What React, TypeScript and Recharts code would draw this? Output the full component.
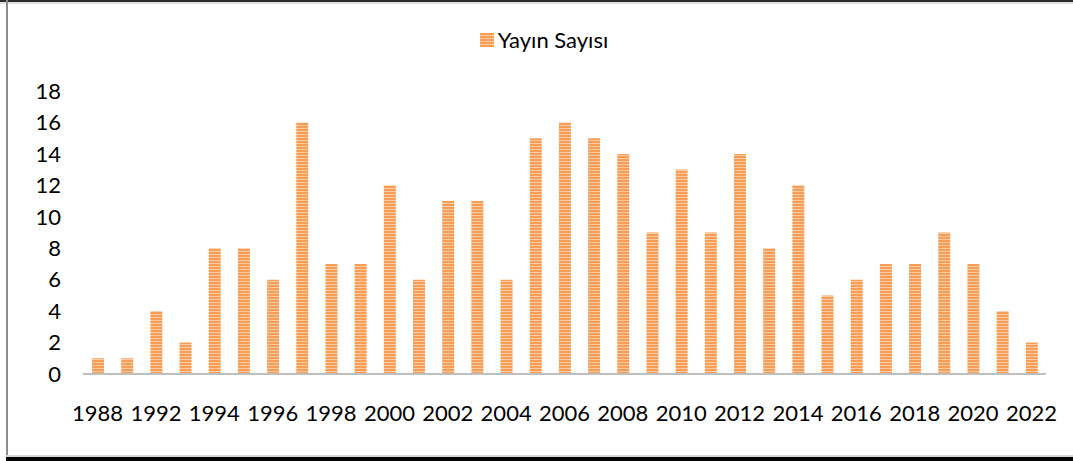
import React from 'react';
import { BarChart, Bar, XAxis, YAxis, Legend } from 'recharts';

// publication counts per year
const years = [
  '1988', '1990', '1992', '1993', '1994', '1995', '1996', '1997', '1998', '1999',
  '2000', '2001', '2002', '2003', '2004', '2005', '2006', '2007', '2008', '2009',
  '2010', '2011', '2012', '2013', '2014', '2015', '2016', '2017', '2018', '2019',
  '2020', '2021', '2022',
];
const counts = [
  1, 1, 4, 2, 8, 8, 6, 16, 7, 7,
  12, 6, 11, 11, 6, 15, 16, 15, 14, 9,
  13, 9, 14, 8, 12, 5, 6, 7, 7, 9,
  7, 4, 2,
];
const yTicks = [0, 2, 4, 6, 8, 10, 12, 14, 16, 18];
const seriesName = 'Yayın Sayısı';

const data = years.map((year, i) => ({ year, value: counts[i] }));

const FONT = 'Lato, "Open Sans", sans-serif';
const ORANGE = '#F79D55';
const STRIPE = '#FBCCA3';

const renderLegend = () => (
  <div style={{ display: 'flex', justifyContent: 'center', alignItems: 'center', paddingLeft: 42, fontFamily: FONT, fontSize: 22, color: '#000' }}>
    <svg width={14} height={14} style={{ marginRight: 4 }}>
      <rect x={0} y={0} width={14} height={14} fill="url(#stripes)" />
    </svg>
    <span>{seriesName}</span>
  </div>
);

export default function App() {
  return (
    <div style={{ position: 'absolute', left: 0, top: 0, width: 1073, height: 461, background: '#fff' }}>
      {/* frame */}
      <div style={{ position: 'absolute', left: 0, top: 0, width: 1073, height: 2, background: '#2b2b2b' }} />
      <div style={{ position: 'absolute', left: 0, top: 2, width: 1073, height: 2, background: '#e0e0e0' }} />
      <div style={{ position: 'absolute', left: 6, top: 0, width: 2, height: 461, background: '#8a8a8a' }} />
      <div style={{ position: 'absolute', left: 6, top: 455, width: 1067, height: 2, background: '#d6d6d6' }} />
      <div style={{ position: 'absolute', left: 6, top: 457, width: 1067, height: 4, background: '#000' }} />
      <BarChart
        width={1073}
        height={461}
        data={data}
        margin={{ top: 26, right: 27, left: 0, bottom: 27 }}
        barSize={12}
      >
        <defs>
          <pattern id="stripes" width={4} height={3} patternUnits="userSpaceOnUse">
            <rect x={0} y={0} width={4} height={3} fill={ORANGE} />
            <rect x={0} y={2} width={4} height={1} fill={STRIPE} />
          </pattern>
        </defs>
        <Legend verticalAlign="top" height={65} content={renderLegend} />
        <XAxis
          dataKey="year"
          interval={1}
          tickLine={false}
          tickSize={0}
          tickMargin={31}
          height={60}
          axisLine={{ stroke: '#BFBFBF', strokeWidth: 2 }}
          tick={{ fill: '#000', fontSize: 22, fontFamily: FONT }}
        />
        <YAxis
          domain={[0, 18]}
          ticks={yTicks}
          width={83}
          axisLine={false}
          tickLine={false}
          tickSize={0}
          tickMargin={22}
          tick={{ fill: '#000', fontSize: 22, fontFamily: FONT }}
        />
        <Bar dataKey="value" name={seriesName} fill="url(#stripes)" isAnimationActive={false} />
      </BarChart>
    </div>
  );
}
